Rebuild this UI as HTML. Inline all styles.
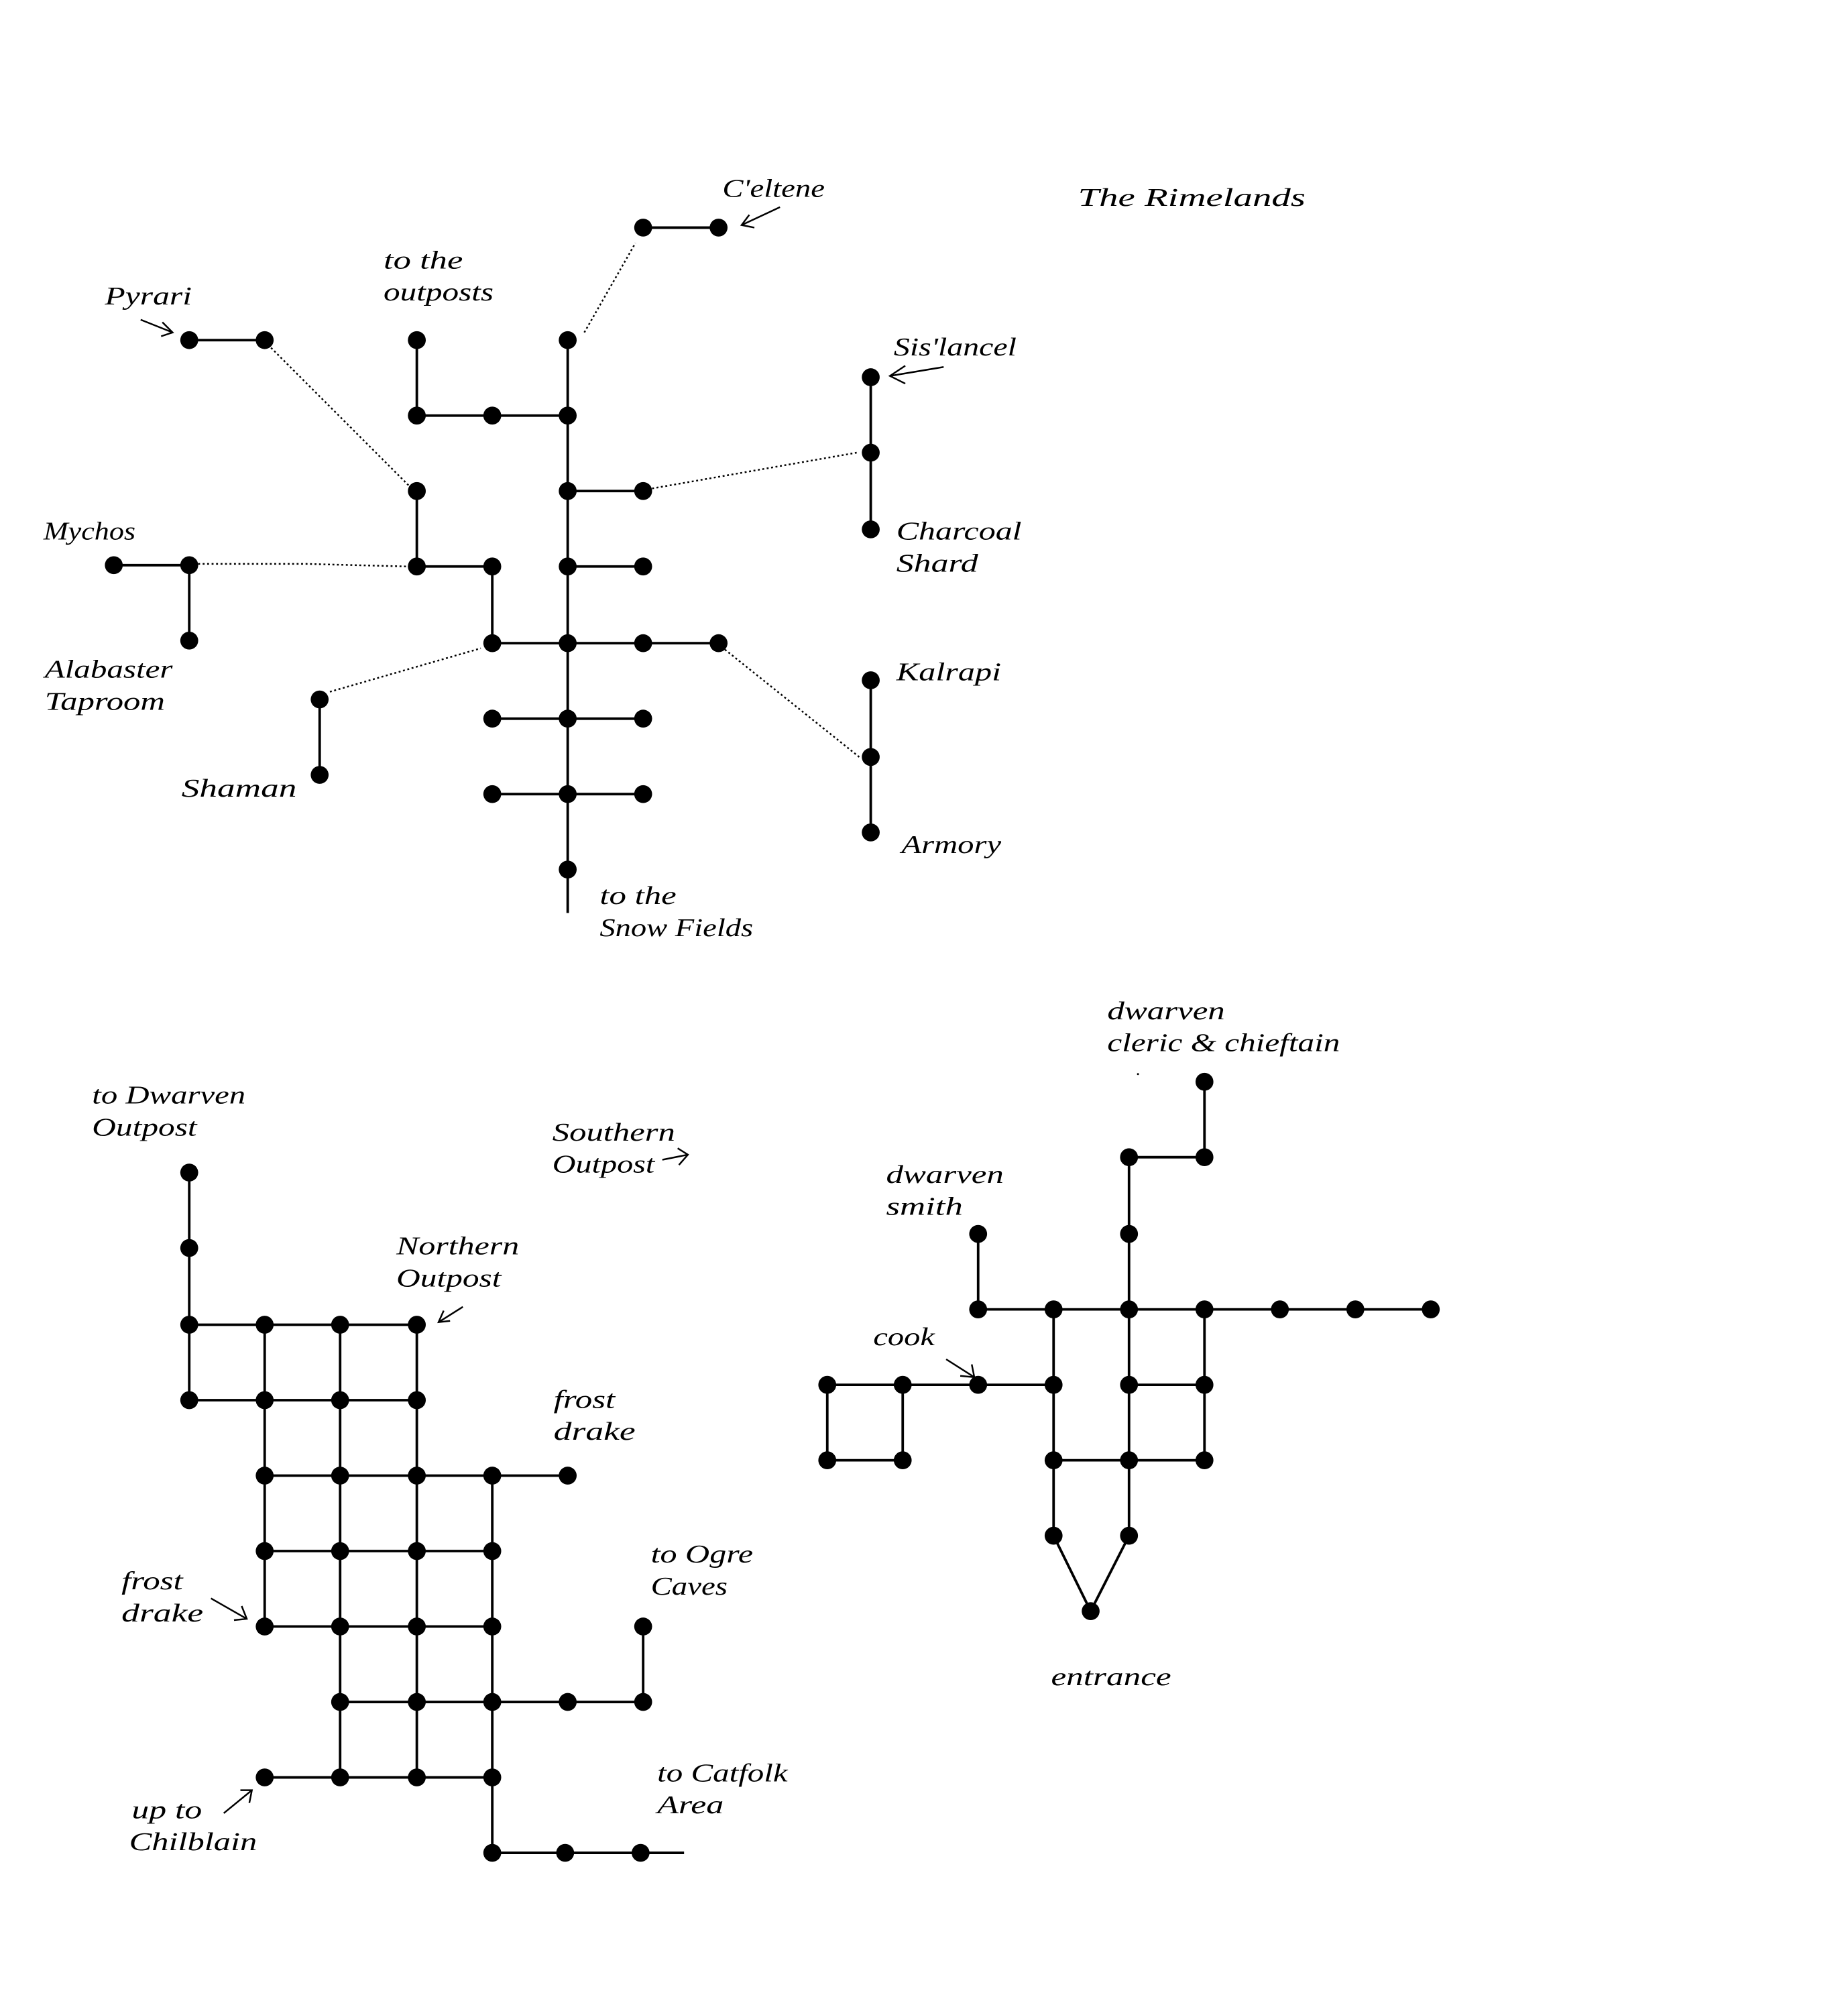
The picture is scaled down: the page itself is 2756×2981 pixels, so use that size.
<!DOCTYPE html>
<html><head><meta charset="utf-8"><style>html,body{margin:0;padding:0;background:#fff}svg{display:block}</style></head>
<body>
<svg xmlns="http://www.w3.org/2000/svg" width="2756" height="2981" viewBox="0 0 1445.3 1563.3">
<rect width="1445.3" height="1563.3" fill="#fff"/>
<g stroke="#000" stroke-width="2" fill="none">
<!-- top map solid -->
<path d="M444 266V714 M326 266V325H444 M503 178H562 M148 266H207 M326 384V443H385V503 M89 442H148V501 M444 384H503 M681 295V414 M444 443H503 M385 503H562 M681 532V651 M250 547V606 M385 562H503 M385 621H503"/>
<!-- bottom left -->
<path d="M148 917V1095 M148 1036H326 M148 1095H326 M207 1036V1272 M266 1036V1390 M326 1036V1390 M385 1154V1449 M207 1154H444 M207 1213H385 M207 1272H385 M266 1331H503V1272 M207 1390H385 M385 1449H535"/>
<!-- bottom right -->
<path d="M942 846V905H883V1201 M765 965V1024H1119 M824 1024V1201 M942 1024V1142 M647 1083H824 M883 1083H942 M647 1083V1142H706V1083 M824 1142H942 M824 1201L853 1260L883 1201"/>
<!-- arrows -->
<path stroke-width="1.3" d="M110 250L135 260M127 252L135 260L126 263 M610 162L580 176M586 168L580 176L590 178 M738 287L696 294M708 286L696 294L708 300 M518 907L538 903M530 898L538 903L531 911 M362 1022L343 1034M347 1025L343 1034L352 1033 M165 1250L193 1266M189 1256L193 1266L183 1267 M175 1418L197 1400M188 1400L197 1400L195 1410 M740 1063L762 1077M760 1067L762 1077L751 1076"/>
</g>
<g stroke="#000" stroke-width="1.3" stroke-dasharray="1.5 2" fill="none">
<path d="M457 260L497 190 M212 272L320 380 M155 441L240 441L318 443 M510 382L670 354 M567 508L672 592 M258 541L376 507"/>
</g>
<g fill="#000">
<!-- top nodes -->
<circle cx="444" cy="266" r="7"/><circle cx="444" cy="325" r="7"/><circle cx="444" cy="384" r="7"/><circle cx="444" cy="443" r="7"/><circle cx="444" cy="503" r="7"/><circle cx="444" cy="562" r="7"/><circle cx="444" cy="621" r="7"/><circle cx="444" cy="680" r="7"/>
<circle cx="326" cy="266" r="7"/><circle cx="326" cy="325" r="7"/><circle cx="385" cy="325" r="7"/>
<circle cx="503" cy="178" r="7"/><circle cx="562" cy="178" r="7"/>
<circle cx="148" cy="266" r="7"/><circle cx="207" cy="266" r="7"/>
<circle cx="326" cy="384" r="7"/><circle cx="326" cy="443" r="7"/><circle cx="385" cy="443" r="7"/>
<circle cx="89" cy="442" r="7"/><circle cx="148" cy="442" r="7"/><circle cx="148" cy="501" r="7"/>
<circle cx="503" cy="384" r="7"/><circle cx="503" cy="443" r="7"/>
<circle cx="681" cy="295" r="7"/><circle cx="681" cy="354" r="7"/><circle cx="681" cy="414" r="7"/>
<circle cx="385" cy="503" r="7"/><circle cx="503" cy="503" r="7"/><circle cx="562" cy="503" r="7"/>
<circle cx="681" cy="532" r="7"/><circle cx="681" cy="592" r="7"/><circle cx="681" cy="651" r="7"/>
<circle cx="250" cy="547" r="7"/><circle cx="250" cy="606" r="7"/>
<circle cx="385" cy="562" r="7"/><circle cx="503" cy="562" r="7"/><circle cx="385" cy="621" r="7"/><circle cx="503" cy="621" r="7"/>
<!-- bottom left nodes -->
<circle cx="148" cy="917" r="7"/><circle cx="148" cy="976" r="7"/>
<circle cx="148" cy="1036" r="7"/><circle cx="207" cy="1036" r="7"/><circle cx="266" cy="1036" r="7"/><circle cx="326" cy="1036" r="7"/>
<circle cx="148" cy="1095" r="7"/><circle cx="207" cy="1095" r="7"/><circle cx="266" cy="1095" r="7"/><circle cx="326" cy="1095" r="7"/>
<circle cx="207" cy="1154" r="7"/><circle cx="266" cy="1154" r="7"/><circle cx="326" cy="1154" r="7"/><circle cx="385" cy="1154" r="7"/><circle cx="444" cy="1154" r="7"/>
<circle cx="207" cy="1213" r="7"/><circle cx="266" cy="1213" r="7"/><circle cx="326" cy="1213" r="7"/><circle cx="385" cy="1213" r="7"/>
<circle cx="207" cy="1272" r="7"/><circle cx="266" cy="1272" r="7"/><circle cx="326" cy="1272" r="7"/><circle cx="385" cy="1272" r="7"/><circle cx="503" cy="1272" r="7"/>
<circle cx="266" cy="1331" r="7"/><circle cx="326" cy="1331" r="7"/><circle cx="385" cy="1331" r="7"/><circle cx="444" cy="1331" r="7"/><circle cx="503" cy="1331" r="7"/>
<circle cx="207" cy="1390" r="7"/><circle cx="266" cy="1390" r="7"/><circle cx="326" cy="1390" r="7"/><circle cx="385" cy="1390" r="7"/>
<circle cx="385" cy="1449" r="7"/><circle cx="442" cy="1449" r="7"/><circle cx="501" cy="1449" r="7"/>
<!-- bottom right nodes -->
<circle cx="942" cy="846" r="7"/><circle cx="942" cy="905" r="7"/><circle cx="883" cy="905" r="7"/><circle cx="883" cy="965" r="7"/><circle cx="765" cy="965" r="7"/>
<circle cx="765" cy="1024" r="7"/><circle cx="824" cy="1024" r="7"/><circle cx="883" cy="1024" r="7"/><circle cx="942" cy="1024" r="7"/><circle cx="1001" cy="1024" r="7"/><circle cx="1060" cy="1024" r="7"/><circle cx="1119" cy="1024" r="7"/>
<circle cx="647" cy="1083" r="7"/><circle cx="706" cy="1083" r="7"/><circle cx="765" cy="1083" r="7"/><circle cx="824" cy="1083" r="7"/><circle cx="883" cy="1083" r="7"/><circle cx="942" cy="1083" r="7"/>
<circle cx="647" cy="1142" r="7"/><circle cx="706" cy="1142" r="7"/><circle cx="824" cy="1142" r="7"/><circle cx="883" cy="1142" r="7"/><circle cx="942" cy="1142" r="7"/>
<circle cx="824" cy="1201" r="7"/><circle cx="883" cy="1201" r="7"/><circle cx="853" cy="1260" r="7"/>
<circle cx="890" cy="840" r="0.8"/>
</g>
<g font-family="'Liberation Serif', serif" font-style="italic" font-size="20" fill="#000" lengthAdjust="spacingAndGlyphs">
<text x="843" y="161" textLength="178" lengthAdjust="spacingAndGlyphs">The Rimelands</text>
<text x="565" y="154" textLength="80" lengthAdjust="spacingAndGlyphs">C'eltene</text>
<text x="300" y="210" textLength="62" lengthAdjust="spacingAndGlyphs">to the</text>
<text x="300" y="235" textLength="86" lengthAdjust="spacingAndGlyphs">outposts</text>
<text x="82" y="238" textLength="68" lengthAdjust="spacingAndGlyphs">Pyrari</text>
<text x="699" y="278" textLength="96" lengthAdjust="spacingAndGlyphs">Sis'lancel</text>
<text x="34" y="422" textLength="72" lengthAdjust="spacingAndGlyphs">Mychos</text>
<text x="701" y="422" textLength="98" lengthAdjust="spacingAndGlyphs">Charcoal</text>
<text x="701" y="447" textLength="64" lengthAdjust="spacingAndGlyphs">Shard</text>
<text x="35" y="530" textLength="100" lengthAdjust="spacingAndGlyphs">Alabaster</text>
<text x="35" y="555" textLength="94" lengthAdjust="spacingAndGlyphs">Taproom</text>
<text x="701" y="532" textLength="82" lengthAdjust="spacingAndGlyphs">Kalrapi</text>
<text x="142" y="623" textLength="90" lengthAdjust="spacingAndGlyphs">Shaman</text>
<text x="705" y="667" textLength="78" lengthAdjust="spacingAndGlyphs">Armory</text>
<text x="469" y="707" textLength="60" lengthAdjust="spacingAndGlyphs">to the</text>
<text x="469" y="732" textLength="120" lengthAdjust="spacingAndGlyphs">Snow Fields</text>
<text x="72" y="863" textLength="120" lengthAdjust="spacingAndGlyphs">to Dwarven</text>
<text x="72" y="888" textLength="82" lengthAdjust="spacingAndGlyphs">Outpost</text>
<text x="432" y="892" textLength="96" lengthAdjust="spacingAndGlyphs">Southern</text>
<text x="432" y="917" textLength="80" lengthAdjust="spacingAndGlyphs">Outpost</text>
<text x="310" y="981" textLength="96" lengthAdjust="spacingAndGlyphs">Northern</text>
<text x="310" y="1006" textLength="82" lengthAdjust="spacingAndGlyphs">Outpost</text>
<text x="433" y="1101" textLength="48" lengthAdjust="spacingAndGlyphs">frost</text>
<text x="433" y="1126" textLength="64" lengthAdjust="spacingAndGlyphs">drake</text>
<text x="95" y="1243" textLength="48" lengthAdjust="spacingAndGlyphs">frost</text>
<text x="95" y="1268" textLength="64" lengthAdjust="spacingAndGlyphs">drake</text>
<text x="509" y="1222" textLength="80" lengthAdjust="spacingAndGlyphs">to Ogre</text>
<text x="509" y="1247" textLength="60" lengthAdjust="spacingAndGlyphs">Caves</text>
<text x="103" y="1422" textLength="55" lengthAdjust="spacingAndGlyphs">up to</text>
<text x="101" y="1447" textLength="100" lengthAdjust="spacingAndGlyphs">Chilblain</text>
<text x="514" y="1393" textLength="102" lengthAdjust="spacingAndGlyphs">to Catfolk</text>
<text x="514" y="1418" textLength="52" lengthAdjust="spacingAndGlyphs">Area</text>
<text x="866" y="797" textLength="92" lengthAdjust="spacingAndGlyphs">dwarven</text>
<text x="866" y="822" textLength="182" lengthAdjust="spacingAndGlyphs">cleric &amp; chieftain</text>
<text x="693" y="925" textLength="92" lengthAdjust="spacingAndGlyphs">dwarven</text>
<text x="693" y="950" textLength="60" lengthAdjust="spacingAndGlyphs">smith</text>
<text x="683" y="1052" textLength="48" lengthAdjust="spacingAndGlyphs">cook</text>
<text x="822" y="1318" textLength="94" lengthAdjust="spacingAndGlyphs">entrance</text>
</g>
</svg>
</body></html>
